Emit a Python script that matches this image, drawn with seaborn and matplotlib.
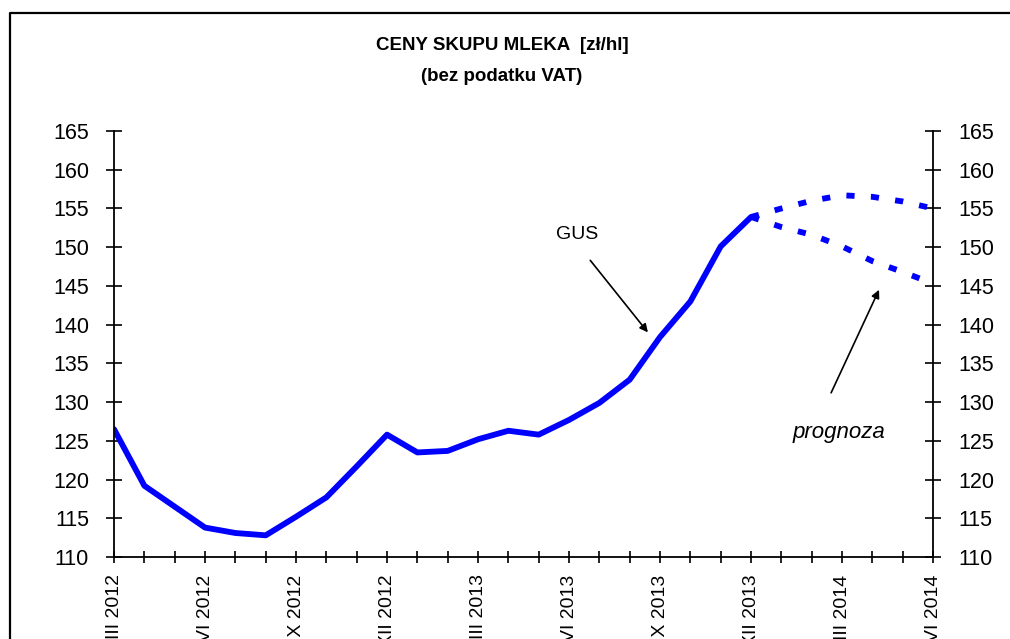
import numpy as np
import pandas as pd
import matplotlib.pyplot as plt
import seaborn as sns
from matplotlib.lines import Line2D

# dane - ceny skupu mleka (zł/hl), miesiące od III 2012 do VI 2014
months = ['III 2012', 'IV 2012', 'V 2012', 'VI 2012', 'VII 2012', 'VIII 2012',
          'IX 2012', 'X 2012', 'XI 2012', 'XII 2012', 'I 2013', 'II 2013',
          'III 2013', 'IV 2013', 'V 2013', 'VI 2013', 'VII 2013', 'VIII 2013',
          'IX 2013', 'X 2013', 'XI 2013', 'XII 2013', 'I 2014', 'II 2014',
          'III 2014', 'IV 2014', 'V 2014', 'VI 2014']
gus_values = [126.5, 119.2, 116.5, 113.8, 113.1, 112.8, 115.2, 117.7, 121.7,
              125.8, 123.5, 123.7, 125.2, 126.3, 125.8, 127.7, 129.9, 132.9,
              138.4, 143.0, 150.1, 153.9]
forecast_high = [153.9, 155.0, 156.0, 156.7, 156.5, 155.9, 155.0]
forecast_low = [153.9, 152.6, 151.6, 150.1, 148.2, 146.8, 145.3]
tick_labels = ['III 2012', 'VI 2012', 'IX 2012', 'XII 2012', 'III 2013',
               'VI 2013', 'IX 2013', 'XII 2013', 'III 2014', 'VI 2014']
y_ticks = [110, 115, 120, 125, 130, 135, 140, 145, 150, 155, 160, 165]

sns.set_style('white')
plt.rcParams['font.family'] = ['Liberation Sans', 'DejaVu Sans']
plt.rcParams['text.color'] = 'black'
plt.rcParams['xtick.color'] = 'black'
plt.rcParams['ytick.color'] = 'black'

n_gus = len(gus_values)
df_gus = pd.DataFrame({'x': np.arange(n_gus), 'cena': gus_values})
x_fc = np.arange(n_gus - 1, n_gus - 1 + len(forecast_high))
df_high = pd.DataFrame({'x': x_fc, 'cena': forecast_high})
df_low = pd.DataFrame({'x': x_fc, 'cena': forecast_low})

fig = plt.figure(figsize=(10.1, 6.39), dpi=100)
ax = fig.add_axes([0.1129, 0.1283, 0.8109, 0.6667])

blue = '#0000FF'
sns.lineplot(data=df_gus, x='x', y='cena', ax=ax, color=blue, lw=4.2)
for d in (df_high, df_low):
    sns.lineplot(data=d, x='x', y='cena', ax=ax, color=blue, lw=4.2,
                 linestyle=(0, (1.4, 2.8)))

# osie
ax.set_xlim(0, len(months) - 1)
ax.set_ylim(110, 165)
ax.set_yticks(y_ticks)
ax.set_xticks(np.arange(len(months)), minor=True)
ax.set_xticks([months.index(m) for m in tick_labels])
ax.set_xticklabels(tick_labels, rotation=90, fontsize=14, va='top')
ax.set_xlabel('')
ax.set_ylabel('')
ax.tick_params(axis='y', which='both', direction='inout', length=12, width=1.2,
               left=True, right=True, labelleft=True, labelright=True,
               labelsize=15.5, pad=12)
ax.tick_params(axis='x', which='both', direction='inout', length=9, width=1.2,
               bottom=True, pad=8)
ax.spines['top'].set_visible(False)
for s in ('left', 'right', 'bottom'):
    ax.spines[s].set_linewidth(1.3)
    ax.spines[s].set_color('black')

# tytuł
fig.text(0.497, 0.929, 'CENY SKUPU MLEKA  [zł/hl]', ha='center', va='center',
         fontsize=13.5, fontweight='bold')
fig.text(0.497, 0.881, '(bez podatku VAT)', ha='center', va='center',
         fontsize=13.5, fontweight='bold')

# opisy ze strzałkami
arrow = dict(arrowstyle='-|>', color='black', lw=1.2, mutation_scale=12,
             shrinkA=0, shrinkB=0)
ax.text(15.27, 151.6, 'GUS', ha='center', va='center', fontsize=14)
ax.annotate('', xy=(17.6, 139.0), xytext=(15.7, 148.3), arrowprops=arrow)
ax.text(23.9, 126.1, 'prognoza', ha='center', va='center', fontsize=16,
        style='italic')
ax.annotate('', xy=(25.22, 144.5), xytext=(23.64, 131.2), arrowprops=arrow)

# ramka wykresu
fig.add_artist(Line2D([0.0099, 0.0099, 1.0], [0.0, 0.9797, 0.9797],
                      transform=fig.transFigure, color='black', lw=1.6))

plt.savefig('out.png', dpi=100)
